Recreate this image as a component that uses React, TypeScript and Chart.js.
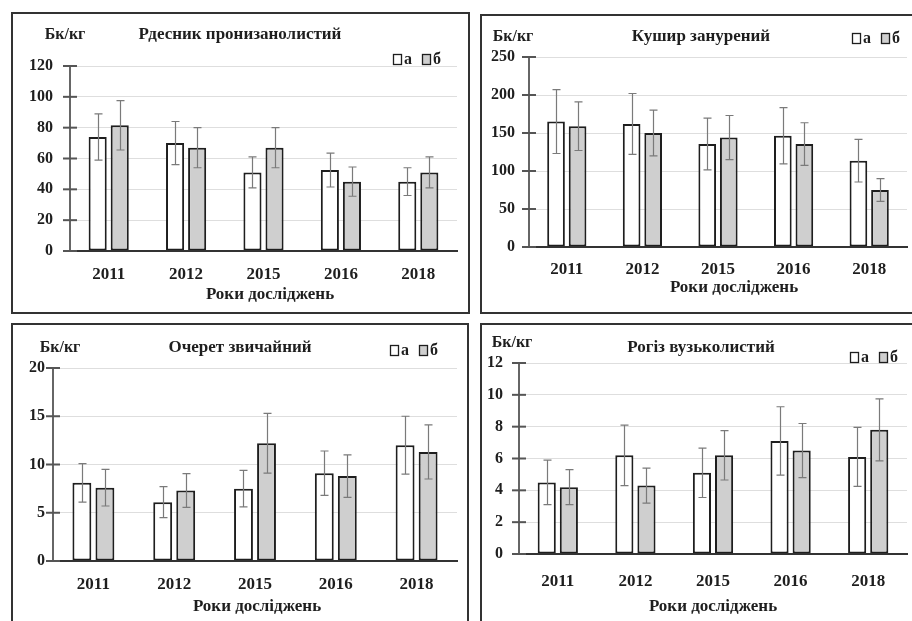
import React, { useEffect, useRef } from 'react';
import { Chart, registerables } from 'chart.js';

Chart.register(...registerables);

// Роки досліджень
const years = ['2011', '2012', '2015', '2016', '2018'];

// Рдесник пронизанолистий, Бк/кг
const rdesnykA = [74, 70, 51, 52.5, 45];
const rdesnykAErr = [15, 14, 10, 11, 9];
const rdesnykB = [81.5, 67, 67, 45, 51];
const rdesnykBErr = [16, 13, 13, 9.5, 10];

// Кушир занурений, Бк/кг
const kushyrA = [165, 162, 135.5, 146.5, 113.5];
const kushyrAErr = [42, 40, 34, 37, 28];
const kushyrB = [159, 150, 144, 135.5, 75];
const kushyrBErr = [32, 30, 29, 28, 15];

// Очерет звичайний, Бк/кг
const ocheretA = [8.1, 6.1, 7.5, 9.1, 12.0];
const ocheretAErr = [2.0, 1.6, 1.9, 2.3, 3.0];
const ocheretB = [7.6, 7.3, 12.2, 8.8, 11.3];
const ocheretBErr = [1.9, 1.75, 3.1, 2.2, 2.8];

// Рогіз вузьколистий, Бк/кг
const rohizA = [4.5, 6.2, 5.1, 7.1, 6.1];
const rohizAErr = [1.4, 1.9, 1.55, 2.15, 1.85];
const rohizB = [4.2, 4.3, 6.2, 6.5, 7.8];
const rohizBErr = [1.1, 1.1, 1.55, 1.7, 1.95];

const FONT = '"Liberation Serif", "Times New Roman", serif';

type Pt = [number, number];

interface PanelDef {
  title: string;
  a: number[];
  aErr: number[];
  b: number[];
  bErr: number[];
  yMax: number;
  yStep: number;
  // outer frame in page pixels
  box: { left: number; top: number; width: number; height: number };
  // plot area inside the frame's content box
  area: { left: number; top: number; right: number; bottom: number };
  yPad: number;
  xPad: number;
  unitPos: Pt;
  titlePos: Pt;
  legendPos: Pt; // left edge, vertical centre
  axisTitlePos: Pt;
}

const panels: PanelDef[] = [
  {
    title: 'Рдесник пронизанолистий',
    a: rdesnykA, aErr: rdesnykAErr, b: rdesnykB, bErr: rdesnykBErr,
    yMax: 120, yStep: 20,
    box: { left: 11, top: 12, width: 459, height: 302 },
    area: { left: 57, top: 52, right: 444, bottom: 237 },
    yPad: 17, xPad: 13,
    unitPos: [52, 21], titlePos: [227, 21], legendPos: [380, 45], axisTitlePos: [257, 281],
  },
  {
    title: 'Кушир занурений',
    a: kushyrA, aErr: kushyrAErr, b: kushyrB, bErr: kushyrBErr,
    yMax: 250, yStep: 50,
    box: { left: 480, top: 14, width: 440, height: 300 },
    area: { left: 47, top: 41, right: 425, bottom: 231 },
    yPad: 14, xPad: 12,
    unitPos: [31, 21], titlePos: [219, 21], legendPos: [370, 22], axisTitlePos: [252, 272],
  },
  {
    title: 'Очерет звичайний',
    a: ocheretA, aErr: ocheretAErr, b: ocheretB, bErr: ocheretBErr,
    yMax: 20, yStep: 5,
    box: { left: 11, top: 323, width: 458, height: 310 },
    area: { left: 40, top: 43, right: 444, bottom: 236 },
    yPad: 8, xPad: 13,
    unitPos: [47, 23], titlePos: [227, 23], legendPos: [377, 25], axisTitlePos: [244, 282],
  },
  {
    title: 'Рогіз вузьколистий',
    a: rohizA, aErr: rohizAErr, b: rohizB, bErr: rohizBErr,
    yMax: 12, yStep: 2,
    box: { left: 480, top: 323, width: 440, height: 310 },
    area: { left: 37, top: 38, right: 425, bottom: 229 },
    yPad: 16, xPad: 17,
    unitPos: [30, 18], titlePos: [219, 23], legendPos: [368, 32], axisTitlePos: [231, 282],
  },
];

const BAR_GREY = '#cfcfcf';
const INK = '#1e1e1e';

function PanelChart({ p }: { p: PanelDef }) {
  const ref = useRef<HTMLCanvasElement>(null);
  const cw = p.box.width - 4;
  const ch = p.box.height - 4;

  useEffect(() => {
    const canvas = ref.current;
    if (!canvas) return;

    const decor = {
      id: 'decor',
      afterDatasetsDraw(chart: any) {
        const ctx = chart.ctx;
        const yScale = chart.scales.y;
        const errs = [p.aErr, p.bErr];
        ctx.save();
        ctx.strokeStyle = '#7a7a7a';
        ctx.lineWidth = 1.2;
        chart.data.datasets.forEach((ds: any, d: number) => {
          const meta = chart.getDatasetMeta(d);
          meta.data.forEach((bar: any, i: number) => {
            const v = ds.data[i];
            const e = errs[d][i];
            const x = Math.round(bar.x) + 0.5;
            const yt = yScale.getPixelForValue(v + e);
            const yb = yScale.getPixelForValue(v - e);
            ctx.beginPath();
            ctx.moveTo(x, yt);
            ctx.lineTo(x, yb);
            ctx.moveTo(x - 4, yt);
            ctx.lineTo(x + 4, yt);
            ctx.moveTo(x - 4, yb);
            ctx.lineTo(x + 4, yb);
            ctx.stroke();
          });
        });
        ctx.restore();
      },
      afterDraw(chart: any) {
        const ctx = chart.ctx;
        const yScale = chart.scales.y;
        const left = chart.chartArea.left;
        ctx.save();
        // tick marks crossing the value axis
        ctx.strokeStyle = '#555';
        ctx.lineWidth = 2;
        yScale.ticks.forEach((_t: any, i: number) => {
          const y = yScale.getPixelForTick(i);
          ctx.beginPath();
          ctx.moveTo(left - 7, y);
          ctx.lineTo(left + 7, y);
          ctx.stroke();
        });

        ctx.fillStyle = INK;
        ctx.textBaseline = 'middle';
        ctx.textAlign = 'center';
        ctx.font = `bold 16px ${FONT}`;
        ctx.fillText('Бк/кг', p.unitPos[0], p.unitPos[1]);
        ctx.font = `bold 17px ${FONT}`;
        ctx.fillText(p.title, p.titlePos[0], p.titlePos[1]);
        ctx.fillText('Роки досліджень', p.axisTitlePos[0], p.axisTitlePos[1]);

        // legend: □а □б
        const [lx, ly] = p.legendPos;
        ctx.font = `bold 16px ${FONT}`;
        ctx.textAlign = 'left';
        ctx.lineWidth = 1.3;
        ctx.strokeStyle = INK;
        ctx.fillStyle = '#fff';
        ctx.fillRect(lx + 0.5, ly - 4.5, 8, 10);
        ctx.strokeRect(lx + 0.5, ly - 4.5, 8, 10);
        ctx.fillStyle = INK;
        ctx.fillText('а', lx + 11, ly + 1);
        const l2 = lx + 29;
        ctx.fillStyle = BAR_GREY;
        ctx.fillRect(l2 + 0.5, ly - 4.5, 8, 10);
        ctx.strokeRect(l2 + 0.5, ly - 4.5, 8, 10);
        ctx.fillStyle = INK;
        ctx.fillText('б', l2 + 11, ly + 1);
        ctx.restore();
      },
    };

    const barCommon = {
      borderColor: INK,
      borderWidth: 2,
      borderSkipped: false as const,
      categoryPercentage: 0.57,
      barPercentage: 0.82,
    };

    const chart = new Chart(canvas, {
      type: 'bar',
      data: {
        labels: years,
        datasets: [
          { label: 'а', data: p.a, backgroundColor: '#ffffff', ...barCommon },
          { label: 'б', data: p.b, backgroundColor: BAR_GREY, ...barCommon },
        ],
      },
      options: {
        responsive: false,
        animation: false,
        devicePixelRatio: 1,
        layout: {
          padding: { left: 0, top: p.area.top, right: cw - p.area.right, bottom: 0 },
        },
        plugins: {
          legend: { display: false },
          tooltip: { enabled: false },
          title: { display: false },
        },
        scales: {
          x: {
            grid: { display: false, drawTicks: false },
            border: { display: true, color: '#333', width: 2, z: 1 },
            ticks: {
              padding: p.xPad,
              color: INK,
              font: { family: FONT, size: 17, weight: 'bold' },
            },
            afterFit: (s: any) => {
              s.height = ch - p.area.bottom;
            },
          },
          y: {
            min: 0,
            max: p.yMax,
            ticks: {
              stepSize: p.yStep,
              padding: p.yPad,
              color: INK,
              font: { family: FONT, size: 16, weight: 'bold' },
            },
            grid: { color: '#dedede', lineWidth: 1, drawTicks: false },
            border: { display: true, color: '#666', width: 2 },
            afterFit: (s: any) => {
              s.width = p.area.left;
            },
          },
        },
      } as any,
      plugins: [decor],
    });
    return () => chart.destroy();
  }, []);

  return (
    <div
      style={{
        position: 'absolute',
        left: p.box.left,
        top: p.box.top,
        width: p.box.width,
        height: p.box.height,
        border: '2px solid #333',
        boxSizing: 'border-box',
        background: '#fff',
      }}
    >
      <canvas ref={ref} width={cw} height={ch} style={{ display: 'block', width: cw, height: ch }} />
    </div>
  );
}

export default function App() {
  return (
    <div
      style={{
        position: 'fixed',
        left: 0,
        top: 0,
        width: 912,
        height: 621,
        overflow: 'hidden',
        background: '#fff',
      }}
    >
      {panels.map((p) => (
        <PanelChart key={p.title} p={p} />
      ))}
    </div>
  );
}
